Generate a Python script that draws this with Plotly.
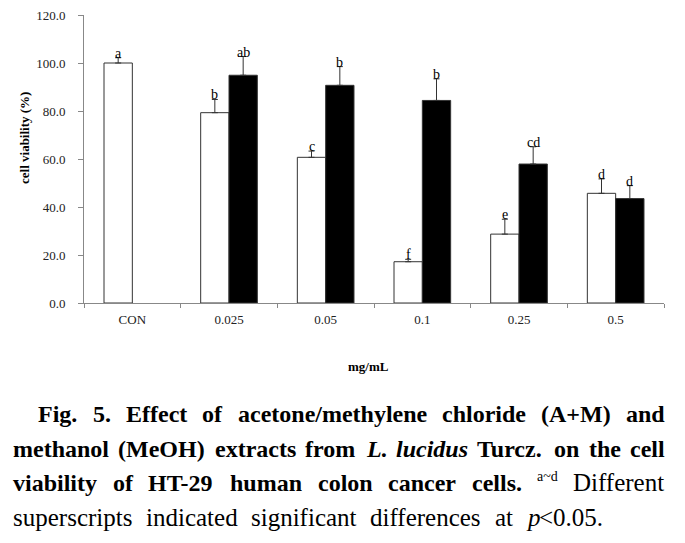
import plotly.graph_objects as go

# ---------------- data ----------------
categories = ["CON", "0.025", "0.05", "0.1", "0.25", "0.5"]
am_values = [100.0, 79.3, 60.7, 17.2, 28.7, 45.7]
am_errors = [2.2, 5.5, 2.6, 1.0, 6.2, 6.0]
am_labels = ["a", "b", "c", "f", "e", "d"]
meoh_values = [None, 94.9, 90.7, 84.4, 57.9, 43.5]
meoh_errors = [None, 7.8, 7.8, 9.0, 7.2, 5.4]
meoh_labels = [None, "ab", "b", "b", "cd", "d"]
y_tick_values = [0, 20, 40, 60, 80, 100, 120]

y_title = "cell viability (%)"
x_title = "mg/mL"

# caption words: (text, style)
caption_line1 = [("Fig.", "b"), ("5.", "b"), ("Effect", "b"), ("of", "b"),
                 ("acetone/methylene", "b"), ("chloride", "b"), ("(A+M)", "b"), ("and", "b")]
caption_line2 = [("methanol", "b"), ("(MeOH)", "b"), ("extracts", "b"), ("from", "b"),
                 ("L.", "bi"), ("lucidus", "bi"), ("Turcz.", "b"), ("on", "b"),
                 ("the", "b"), ("cell", "b")]
caption_line3 = [("viability", "b"), ("of", "b"), ("HT-29", "b"), ("human", "b"),
                 ("colon", "b"), ("cancer", "b"), ("cells.", "b"), ("a~d", "sup"),
                 ("Different", "r")]
caption_line4 = [("superscripts", "r"), ("indicated", "r"), ("significant", "r"),
                 ("differences", "r"), ("at", "r"), ("p", "i"), ("<0.05.", "r")]

FONT = "Liberation Serif, Times New Roman, serif"

# ---------------- layout geometry ----------------
OFF = 8  # page body margin offset
W, H = 685 - OFF, 543 - OFF
ML, MT = 84 - OFF, 15 - OFF
PW, PH = 580, 288
MR = W - ML - PW
MB = H - MT - PH


def px_to_paper(px, py):
    return (px - OFF - ML) / PW, (MT + PH - (py - OFF)) / PH


# Times metrics (Liberation Serif is metric-compatible)
BOLD = {' ': 250, '(': 333, ')': 333, '+': 570, '.': 250, '/': 278, '-': 333,
        '0': 500, '2': 500, '5': 500, '9': 500,
        'A': 722, 'C': 722, 'E': 667, 'F': 611, 'H': 778, 'L': 667, 'M': 944,
        'O': 778, 'T': 667,
        'a': 500, 'b': 556, 'c': 444, 'd': 556, 'e': 444, 'f': 333, 'g': 500,
        'h': 556, 'i': 278, 'l': 278, 'm': 833, 'n': 556, 'o': 500, 'r': 444,
        's': 389, 't': 333, 'u': 556, 'v': 500, 'x': 500, 'y': 500, 'z': 444}
BOLDIT = {'L': 611, 'u': 556, 'c': 444, 'i': 278, 'd': 500, 's': 389, '.': 250, 'l': 278}
REG = {'a': 444, 'b': 500, 'c': 444, 'd': 500, 'e': 444, 'f': 333, 'g': 500,
       'h': 500, 'i': 278, 'l': 278, 'm': 778, 'n': 500, 'p': 500, 'r': 333,
       's': 389, 't': 278, 'u': 500, 'D': 722, '~': 541, '<': 564, '0': 500,
       '.': 250, '5': 500}
ITAL = {'p': 500}

SIZE_B = 24
SIZE_R = 25
SIZE_SUP = 14


def style_info(style):
    if style == "b":
        return BOLD, SIZE_B
    if style == "bi":
        return BOLDIT, SIZE_B
    if style == "i":
        return ITAL, SIZE_R
    if style == "sup":
        return REG, SIZE_SUP
    return REG, SIZE_R


def word_width(text, style):
    table, size = style_info(style)
    return sum(table.get(ch, 500) for ch in text) * size / 1000.0


def wrap(text, style):
    if style == "b":
        return "<b>%s</b>" % text
    if style == "bi":
        return "<b><i>%s</i></b>" % text
    if style == "i":
        return "<i>%s</i>" % text
    return text


annotations = []


def add_line(words, left, right, baseline, joined=None):
    joined = joined or set()
    groups = []
    for i, (t, s) in enumerate(words):
        if i in joined:
            groups[-1].append((t, s))
        else:
            groups.append([(t, s)])
    widths = [sum(word_width(t, s) for t, s in g) for g in groups]
    total = sum(widths)
    gap = (right - left - total) / (len(groups) - 1)
    x = left
    for g, w in zip(groups, widths):
        xx = x
        for t, s in g:
            _, size = style_info(s)
            ww = word_width(t, s)
            base = baseline - 9 if s == "sup" else baseline
            px, py = px_to_paper(xx, base - 0.30 * size)
            annotations.append(dict(
                text=wrap(t, s), x=px, y=py, xref="paper", yref="paper",
                xanchor="left", yanchor="middle", showarrow=False,
                borderpad=0, borderwidth=0,
                font=dict(family=FONT, size=size, color="#000000")))
            xx += ww
        x += w + gap


add_line(caption_line1, 38, 665, 421)
add_line(caption_line2, 13, 665, 456)
add_line(caption_line3, 13, 665, 490)
add_line(caption_line4, 13, 603, 525, joined={6})

# axis titles
tx, ty = px_to_paper(24, 138)
annotations.append(dict(text="<b>%s</b>" % y_title, x=tx, y=ty, xref="paper", yref="paper",
                        xanchor="center", yanchor="middle", textangle=-90, showarrow=False,
                        font=dict(family=FONT, size=13, color="#000000")))
tx, ty = px_to_paper(368, 366)
annotations.append(dict(text="<b>%s</b>" % x_title, x=tx, y=ty, xref="paper", yref="paper",
                        xanchor="center", yanchor="middle", showarrow=False,
                        font=dict(family=FONT, size=13, color="#000000")))

# significance letters (category index positions)
BAR_HALF = 0.5 * (1 - 0.414) / 2 * PW / len(categories)
for series_vals, series_errs, series_labs, sign in (
        (am_values, am_errors, am_labels, -1), (meoh_values, meoh_errors, meoh_labels, 1)):
    for i, (v, e, lab) in enumerate(zip(series_vals, series_errs, series_labs)):
        if v is None or lab is None:
            continue
        annotations.append(dict(text=lab, x=i, y=v + e, xref="x", yref="y",
                                xanchor="center", yanchor="bottom",
                                xshift=sign * BAR_HALF, yshift=-3,
                                showarrow=False, borderpad=0, borderwidth=0,
                                font=dict(family=FONT, size=14, color="#000000")))

# ---------------- figure ----------------
fig = go.Figure()
fig.add_trace(go.Bar(
    x=categories, y=am_values, name="A+M",
    marker=dict(color="#ffffff", line=dict(color="#333333", width=1)),
    error_y=dict(type="data", symmetric=False, array=am_errors,
                 arrayminus=[0] * len(am_errors), color="#333333", thickness=1, width=3),
))
fig.add_trace(go.Bar(
    x=categories, y=meoh_values, name="MeOH",
    marker=dict(color="#000000", line=dict(color="#333333", width=1)),
    error_y=dict(type="data", symmetric=False, array=meoh_errors,
                 arrayminus=[0] * len(meoh_errors), color="#333333", thickness=1, width=3),
))

fig.update_layout(
    width=W, height=H, autosize=False,
    margin=dict(l=ML, r=MR, t=MT, b=MB, pad=0, autoexpand=False),
    paper_bgcolor="#ffffff", plot_bgcolor="#ffffff",
    barmode="group", bargap=0.414, bargroupgap=0,
    showlegend=False,
    font=dict(family=FONT, size=13, color="#222222"),
    annotations=annotations,
)
fig.update_xaxes(
    type="category", showline=True, linecolor="#888888", linewidth=1,
    ticks="outside", tickson="boundaries", ticklen=4, tickcolor="#888888",
    showgrid=False, zeroline=False, ticklabelstandoff=4, automargin=False,
    tickfont=dict(family=FONT, size=13, color="#222222"),
)
fig.update_yaxes(
    range=[0, 120], tickvals=y_tick_values, tickformat=".1f",
    showline=True, linecolor="#888888", linewidth=1,
    ticks="outside", ticklen=5, tickcolor="#888888",
    showgrid=False, zeroline=False, ticklabelstandoff=10, automargin=False,
    ticklabeloverflow="allow",
    tickfont=dict(family=FONT, size=13, color="#222222"),
)

fig.write_html("out.html")
